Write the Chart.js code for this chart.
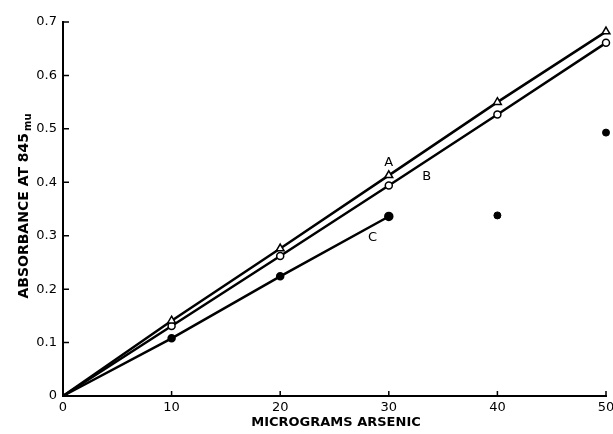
<!DOCTYPE html>
<html>
<head>
<meta charset="utf-8">
<script src="https://cdn.jsdelivr.net/npm/chart.js@4.4.1/dist/chart.umd.min.js"></script>
<style>
  html, body { margin: 0; padding: 0; background: #fff; }
</style>
</head>
<body>
<canvas id="arsenicChart" width="613" height="434"></canvas>
<script>
const micrograms = [0, 10, 20, 30, 40, 50];
const curveA = [0, 0.141, 0.276, 0.413, 0.550, 0.682];
const curveB = [0, 0.131, 0.262, 0.394, 0.527, 0.661];
const curveC = [0, 0.108, 0.224, 0.336];
const looseC = [null, null, null, null, 0.338, 0.493];
const curveLabels = [
  { text: "A", x: 30, y: 0.436 },
  { text: "B", x: 33.5, y: 0.41 },
  { text: "C", x: 28.5, y: 0.296 },
];

const toPoints = (ys) =>
  ys.map((y, i) => ({ x: micrograms[i], y })).filter((p) => p.y !== null);

const tickFont = { family: "DejaVu Sans", size: 13 };

// inward tick marks, curve letters and the axis titles
const paperStyle = {
  id: "paperStyle",
  afterDraw(chart) {
    const { ctx, chartArea, scales } = chart;
    const xs = scales.x;
    const ys = scales.y;
    ctx.save();
    ctx.strokeStyle = "#000";
    ctx.lineWidth = 1.5;
    ctx.beginPath();
    xs.ticks.forEach((t) => {
      if (t.value === 0) return;
      const px = xs.getPixelForValue(t.value);
      ctx.moveTo(px, chartArea.bottom);
      ctx.lineTo(px, chartArea.bottom - 5);
    });
    ys.ticks.forEach((t) => {
      if (t.value === 0) return;
      const py = ys.getPixelForValue(t.value);
      ctx.moveTo(chartArea.left, py);
      ctx.lineTo(chartArea.left + 6, py);
    });
    ctx.stroke();

    ctx.fillStyle = "#000";
    ctx.font = "13px 'DejaVu Sans'";
    ctx.textAlign = "center";
    ctx.textBaseline = "middle";
    curveLabels.forEach((l) => {
      ctx.fillText(l.text, xs.getPixelForValue(l.x), ys.getPixelForValue(l.y));
    });

    ctx.font = "bold 13px 'DejaVu Sans'";
    ctx.fillText("MICROGRAMS ARSENIC", 336, 423);

    ctx.translate(24, 206);
    ctx.rotate(-Math.PI / 2);
    const main = "ABSORBANCE AT 845";
    ctx.font = "bold 14px 'DejaVu Sans'";
    const w1 = ctx.measureText(main).width;
    ctx.font = "bold 10px 'DejaVu Sans'";
    const w2 = ctx.measureText("mu").width;
    const start = -(w1 + w2 + 2) / 2;
    ctx.textAlign = "left";
    ctx.font = "bold 14px 'DejaVu Sans'";
    ctx.fillText(main, start, 0);
    ctx.font = "bold 10px 'DejaVu Sans'";
    ctx.fillText("mu", start + w1 + 2, 4);
    ctx.restore();
  },
};

new Chart(document.getElementById("arsenicChart"), {
  type: "scatter",
  data: {
    datasets: [
      {
        label: "A",
        data: toPoints(curveA),
        showLine: true,
        borderColor: "#000",
        borderWidth: 2.5,
        pointStyle: "triangle",
        pointRadius: [0, 4.5, 4.5, 4.5, 4.5, 4.5],
        pointBackgroundColor: "#fff",
        pointBorderColor: "#000",
        pointBorderWidth: 1.5,
      },
      {
        label: "B",
        data: toPoints(curveB),
        showLine: true,
        borderColor: "#000",
        borderWidth: 2.5,
        pointStyle: "circle",
        pointRadius: [0, 3.5, 3.5, 3.5, 3.5, 3.5],
        pointBackgroundColor: "#fff",
        pointBorderColor: "#000",
        pointBorderWidth: 1.5,
      },
      {
        label: "C",
        data: toPoints(curveC),
        showLine: true,
        borderColor: "#000",
        borderWidth: 2.5,
        pointStyle: "circle",
        pointRadius: [0, 3, 3, 3.5],
        pointBackgroundColor: "#000",
        pointBorderColor: "#000",
      },
      {
        label: "C (off line)",
        data: toPoints(looseC),
        showLine: false,
        pointStyle: "circle",
        pointRadius: 3.5,
        pointBackgroundColor: "#000",
        pointBorderColor: "#000",
      },
    ],
  },
  options: {
    responsive: false,
    animation: false,
    clip: false,
    layout: { padding: { top: 22, right: 7, left: 0, bottom: 0 } },
    plugins: {
      legend: { display: false },
      tooltip: { enabled: false },
    },
    scales: {
      x: {
        type: "linear",
        min: 0,
        max: 50,
        ticks: { stepSize: 10, color: "#000", font: tickFont, padding: 4, maxRotation: 0 },
        grid: { display: false, drawTicks: false },
        border: { display: true, color: "#000", width: 2 },
        afterFit: (scale) => {
          scale.height = 38;
          scale.paddingLeft = 0;
          scale.paddingRight = 0;
        },
      },
      y: {
        min: 0,
        max: 0.7,
        ticks: {
          stepSize: 0.1,
          color: "#000",
          font: tickFont,
          padding: 6,
          callback: (v) => (v === 0 ? "0" : v.toFixed(1)),
        },
        grid: { display: false, drawTicks: false },
        border: { display: true, color: "#000", width: 2 },
        afterFit: (scale) => { scale.width = 63; },
      },
    },
  },
  plugins: [paperStyle],
});
</script>
</body>
</html>
